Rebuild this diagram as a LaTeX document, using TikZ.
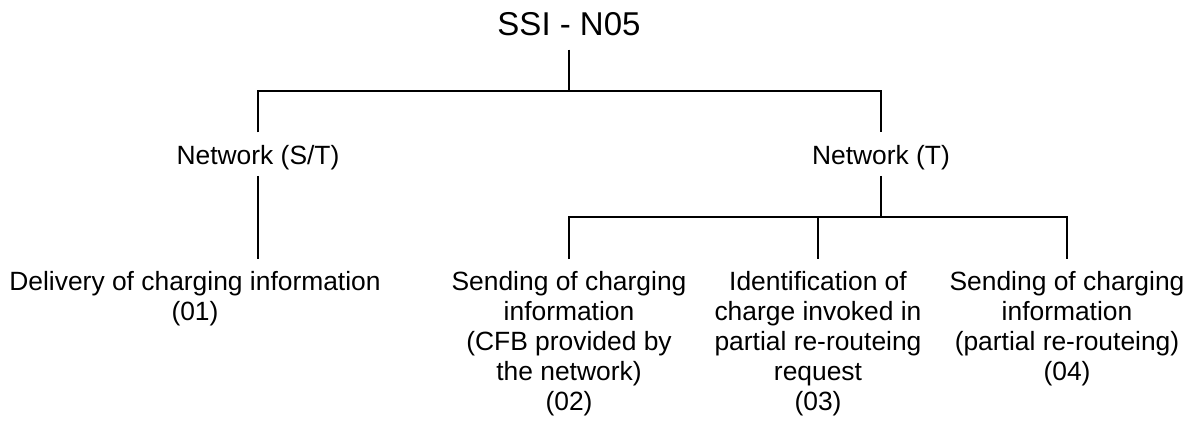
\documentclass[tikz,border=0pt]{standalone}
\usepackage{fontspec}
\setmainfont{Liberation Sans}
\begin{document}
\begin{tikzpicture}[x=0.5pt,y=-0.5pt]
        \useasboundingbox (0,0) rectangle (1192,420);
        \node[font=\fontsize{16.5}{19}\selectfont, inner sep=0pt, anchor=base] (ssi) at (569,35) {SSI - N05};
        \begin{scope}[every node/.style={inner sep=0pt, align=center, font=\fontsize{13.2}{15}\selectfont}]
            \node[anchor=base] (st) at (258,164) {Network (S/T)};
            \node[anchor=base] (t) at (881,164) {Network (T)};
            \node[anchor=north] (01) at (195,271) {Delivery of charging information\\(01)};
            \node[anchor=north] (02) at (569,271) {Sending of charging\\information\\(CFB provided by\\the network)\\(02)};
            \node[anchor=north] (03) at (818,271) {Identification of\\charge invoked in\\partial re-routeing\\request\\(03)};
            \node[anchor=north] (04) at (1067,271) {Sending of charging\\information\\(partial re-routeing)\\(04)};
        \end{scope}
        \coordinate (top) at (569,91);
        \coordinate (tsplit) at (881,217);
        \begin{scope}[line width=1pt]
            \draw[shorten <=7pt] (ssi.south) -- (top);
            \draw[shorten <=6pt, shorten >=6pt] (st.north) |- (top) -| (t.north);
            \draw[shorten <=3pt, shorten >=6pt] (st.south) -- (st.south |- 01.north);
            \draw[shorten <=3pt] (t.south) -- (tsplit);
            \draw[shorten <=6pt, shorten >=6pt] (02.north) |- (tsplit) -| (04.north);
            \draw[shorten >=6pt] (tsplit -| 03.north) -- (03.north);
        \end{scope}
    \end{tikzpicture}
\end{document}
